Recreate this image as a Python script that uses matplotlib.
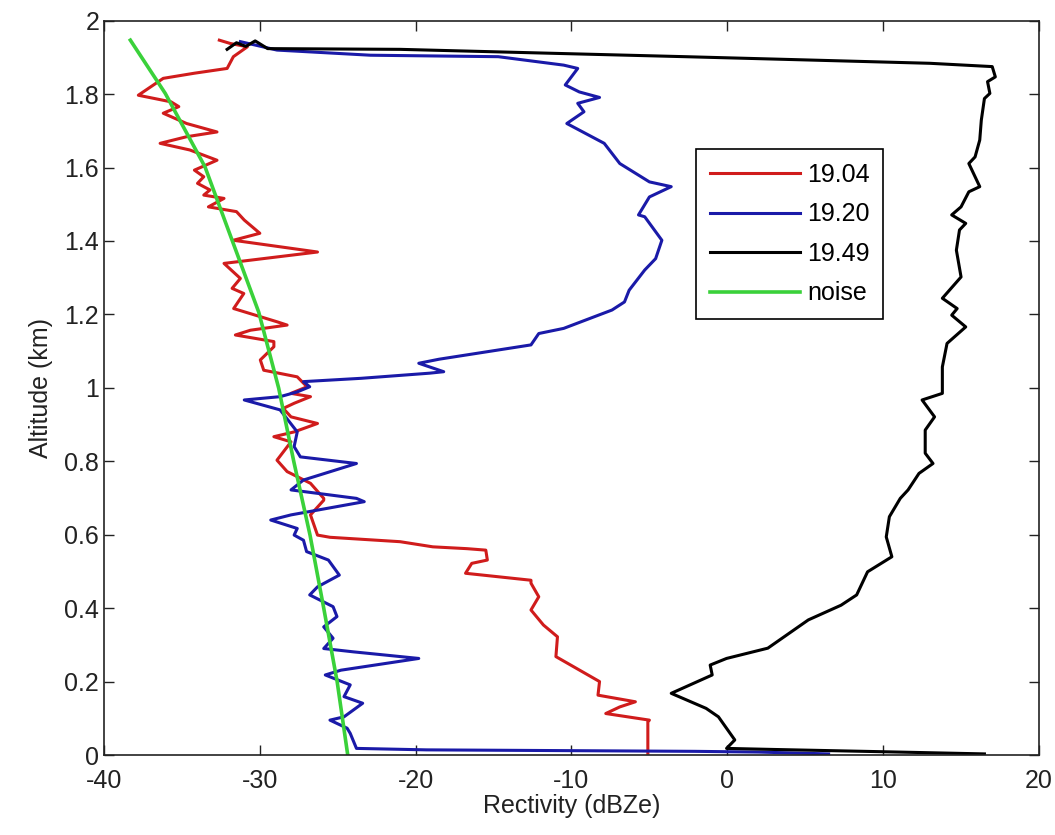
import matplotlib
matplotlib.use("Agg")
import matplotlib.pyplot as plt

plt.rcParams['font.family'] = ['Liberation Sans Narrow', 'Liberation Sans', 'DejaVu Sans']
plt.rcParams['axes.unicode_minus'] = False

# profile 19.04 (red)
alt_1904 = [0.005, 0.09, 0.095, 0.113, 0.131, 0.145, 0.163, 0.2, 0.268, 0.322, 0.354, 0.395,
            0.431, 0.468, 0.476, 0.495, 0.522, 0.531, 0.558, 0.562, 0.567, 0.581, 0.593, 0.599,
            0.654, 0.694, 0.699, 0.74, 0.772, 0.803, 0.853, 0.867, 0.88, 0.903, 0.921, 0.944,
            0.958, 0.976, 0.985, 1.003, 1.03, 1.048, 1.076, 1.112, 1.126, 1.144, 1.157, 1.171,
            1.18, 1.216, 1.257, 1.271, 1.298, 1.339, 1.37, 1.402, 1.421, 1.457, 1.48, 1.493,
            1.516, 1.525, 1.539, 1.557, 1.575, 1.593, 1.62, 1.648, 1.666, 1.684, 1.697, 1.72,
            1.748, 1.766, 1.779, 1.797, 1.843, 1.857, 1.87, 1.902, 1.929, 1.938, 1.947]
dbz_1904 = [-5.1, -5.1, -5.0, -7.8, -6.9, -5.9, -8.3, -8.2, -11.0, -10.9, -11.8, -12.6,
            -12.1, -12.6, -12.6, -16.8, -16.4, -15.4, -15.5, -16.7, -18.9, -21.0, -25.5, -26.3,
            -26.75, -25.9, -25.9, -26.75, -28.25, -28.9, -28.0, -29.1, -27.8, -26.3, -28.0, -28.5,
            -27.8, -26.75, -28.0, -26.97, -27.6, -29.75, -29.97, -29.1, -29.1, -31.57, -30.6, -28.25,
            -28.9, -31.68, -31.03, -31.78, -31.25, -32.3, -26.3, -31.7, -30.0, -31.0, -31.5, -33.3,
            -32.3, -33.6, -33.2, -34.0, -33.6, -34.2, -32.75, -34.5, -36.4, -34.7, -32.75, -34.7,
            -36.2, -35.2, -35.7, -37.8, -36.2, -34.2, -32.1, -31.7, -30.8, -31.9, -32.6]

# profile 19.20 (blue)
alt_1920 = [0.003, 0.008, 0.01, 0.014, 0.018, 0.059, 0.073, 0.095, 0.104, 0.141, 0.159, 0.191,
            0.218, 0.231, 0.263, 0.281, 0.29, 0.318, 0.349, 0.377, 0.404, 0.436, 0.458, 0.49,
            0.531, 0.554, 0.585, 0.599, 0.617, 0.64, 0.654, 0.69, 0.699, 0.722, 0.749, 0.794,
            0.812, 0.84, 0.88, 0.94, 0.967, 0.976, 0.989, 1.003, 1.017, 1.026, 1.04, 1.044,
            1.067, 1.078, 1.117, 1.148, 1.162, 1.212, 1.234, 1.266, 1.321, 1.352, 1.402, 1.466,
            1.471, 1.52, 1.548, 1.561, 1.611, 1.666, 1.702, 1.72, 1.752, 1.775, 1.791, 1.806,
            1.825, 1.87, 1.879, 1.902, 1.906, 1.92, 1.943]
dbz_1920 = [6.5, 2.0, -2.1, -19.3, -23.8, -24.2, -24.4, -25.5, -24.6, -23.4, -24.6, -24.2,
            -25.8, -24.8, -19.8, -24.0, -25.9, -25.3, -25.9, -25.05, -25.3, -26.8, -26.3, -24.9,
            -25.6, -27.0, -27.2, -27.8, -27.6, -29.3, -28.0, -23.3, -23.8, -28.0, -27.2, -23.8,
            -27.4, -27.8, -27.6, -28.7, -31.0, -28.7, -27.6, -26.8, -27.2, -23.5, -19.1, -18.2,
            -19.8, -18.5, -12.6, -12.1, -10.5, -7.4, -6.6, -6.3, -5.3, -4.6, -4.2, -5.3,
            -5.7, -5.0, -3.6, -5.0, -6.9, -7.9, -9.5, -10.3, -9.2, -9.6, -8.2, -9.5,
            -10.4, -9.6, -10.5, -14.7, -22.9, -28.9, -31.25]

# profile 19.49 (black)
alt_1949 = [0.003, 0.009, 0.015, 0.018, 0.041, 0.104, 0.127, 0.168, 0.218, 0.245, 0.263, 0.291,
            0.368, 0.408, 0.436, 0.499, 0.54, 0.594, 0.649, 0.699, 0.722, 0.767, 0.794, 0.822,
            0.885, 0.921, 0.967, 0.985, 1.057, 1.121, 1.166, 1.198, 1.216, 1.244, 1.302, 1.375,
            1.43, 1.448, 1.471, 1.493, 1.534, 1.548, 1.611, 1.629, 1.675, 1.729, 1.788, 1.802,
            1.834, 1.847, 1.875, 1.884, 1.893, 1.902, 1.911, 1.922, 1.924, 1.945, 1.93, 1.94, 1.922]
dbz_1949 = [16.5, 9.9, 3.1, -0.05, 0.48, -0.57, -1.36, -3.6, -0.97, -1.1, -0.05, 2.6,
            5.2, 7.3, 8.3, 9.0, 10.56, 10.2, 10.4, 11.1, 11.6, 12.3, 13.2, 12.7,
            12.7, 13.3, 12.5, 13.8, 13.8, 14.1, 15.3, 14.4, 14.75, 13.8, 15.0, 14.7,
            14.9, 15.3, 14.4, 15.0, 15.5, 16.2, 15.5, 15.9, 16.2, 16.3, 16.5, 16.85,
            16.7, 17.2, 17.0, 13.0, 5.2, -2.7, -11.0, -21.0, -29.5, -30.3, -30.9, -31.5, -32.1]

# noise level
alt_noise = [0.0, 0.2, 0.4, 0.599, 0.799, 0.999, 1.206, 1.402, 1.602, 1.802, 1.947]
dbz_noise = [-24.36, -25.04, -25.9, -26.78, -27.82, -28.79, -30.07, -31.78, -33.52, -36.07, -38.31]

fig = plt.figure(figsize=(10.55, 8.35), dpi=100)
ax = fig.add_axes([0.0986, 0.0958, 0.8862, 0.8794])

ax.plot(dbz_1904, alt_1904, color='#d01c1c', lw=2.2, label='19.04')
ax.plot(dbz_1920, alt_1920, color='#1a1aa8', lw=2.2, label='19.20')
ax.plot(dbz_1949, alt_1949, color='black', lw=2.2, label='19.49')
ax.plot(dbz_noise, alt_noise, color='#3ad13a', lw=2.6, label='noise')

ax.set_xlim(-40, 20)
ax.set_ylim(0, 2)
ax.set_xticks(range(-40, 21, 10))
ax.set_yticks([0, 0.2, 0.4, 0.6, 0.8, 1, 1.2, 1.4, 1.6, 1.8, 2])
ax.set_yticklabels(['0', '0.2', '0.4', '0.6', '0.8', '1', '1.2', '1.4', '1.6', '1.8', '2'])
ax.tick_params(direction='in', top=True, right=True, length=7, width=1,
               labelsize=18, colors='#222222')
ax.tick_params(axis='x', pad=10)
for s in ax.spines.values():
    s.set_linewidth(1.2)
    s.set_color('#222222')

ax.set_xlabel('Rectivity (dBZe)', fontsize=18, color='#222222', labelpad=1)
ax.set_ylabel('Altitude (km)', fontsize=18, color='#222222', labelpad=8)

leg = ax.legend(loc='upper left', bbox_to_anchor=(0.633, 0.825), borderaxespad=0,
                fancybox=False, edgecolor='black', fontsize=18, handlelength=3.6,
                handletextpad=0.3, labelspacing=0.62, borderpad=0.55, framealpha=1)
leg.get_frame().set_linewidth(1.2)

fig.savefig('out.png', dpi=100)
